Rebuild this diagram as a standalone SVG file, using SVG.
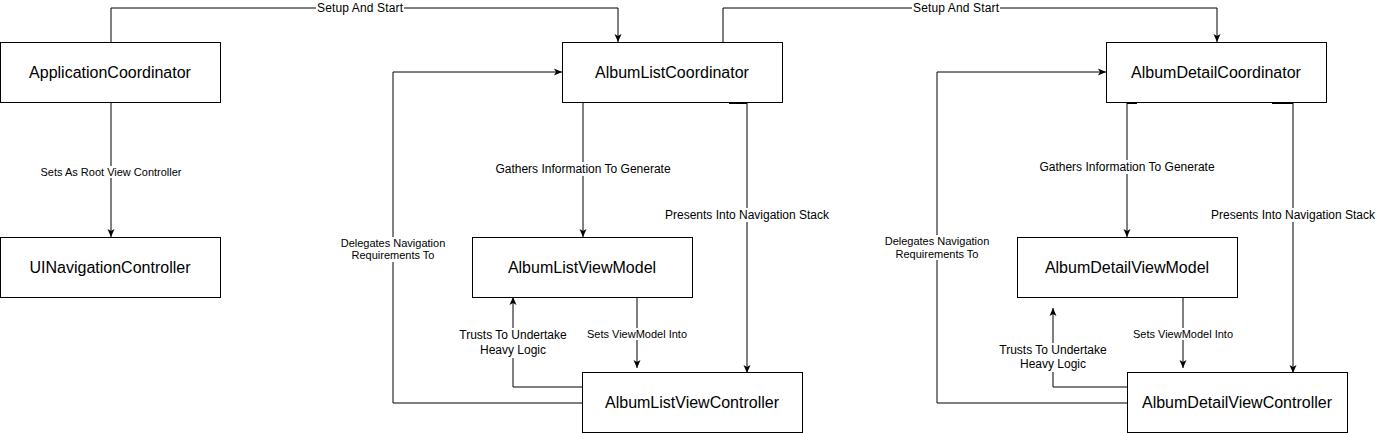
<svg xmlns="http://www.w3.org/2000/svg" width="1376" height="433" viewBox="0 0 1376 433">
<style>
.box{fill:#fff;stroke:#000;stroke-width:1}
.t{font-family:"Liberation Sans",Arial,sans-serif;font-size:16px;fill:#000;text-anchor:middle;dominant-baseline:central}
.l{font-family:"Liberation Sans",Arial,sans-serif;font-size:11px;fill:#000;text-anchor:middle;dominant-baseline:central}
.m{font-size:12px}
.e{fill:none;stroke:#000;stroke-width:1;marker-end:url(#a)}
.bg{fill:#fff}
.tick{stroke:#000;stroke-width:2}
</style>
<defs>
<marker id="a" markerUnits="userSpaceOnUse" markerWidth="10" markerHeight="10" viewBox="0 0 10 10" refX="8" refY="5" orient="auto">
<path d="M0,1.5 L8,5 L0,8.5 L2,5 z" fill="#000"/>
</marker>
</defs>
<rect width="1376" height="433" fill="#fff"/>
<g id="connectors">
<path class="e" d="M111,42 V8 H618 V42"/>
<rect class="bg" x="316" y="2" width="88" height="12"/>
<text class="l m" x="360" y="8" textLength="86">Setup And Start</text>
<path class="e" d="M723,42 V8 H1217 V42"/>
<rect class="bg" x="912" y="2" width="88" height="12"/>
<text class="l m" x="956" y="8" textLength="86">Setup And Start</text>
<path class="e" d="M111,102 V237"/>
<rect class="bg" x="39" y="166" width="145" height="12"/>
<text class="l" x="111" y="172">Sets As Root View Controller</text>
<path class="e" d="M583,102 V237"/>
<rect class="bg" x="494" y="162" width="178" height="14"/>
<text class="l m" x="583" y="169">Gathers Information To Generate</text>
<path class="e" d="M747,102 V373"/>
<rect class="bg" x="664" y="208" width="167" height="14"/>
<text class="l m" x="747" y="215">Presents Into Navigation Stack</text>
<line class="tick" x1="729" y1="103" x2="747" y2="103"/>
<path class="e" d="M637,297 V368"/>
<rect class="bg" x="586" y="328" width="102" height="12"/>
<text class="l" x="637" y="334">Sets ViewModel Into</text>
<path class="e" d="M582,387 H513 V297"/>
<rect class="bg" x="458" y="328" width="110" height="30"/>
<text class="l m" x="513" y="335">Trusts To Undertake</text>
<text class="l m" x="513" y="350">Heavy Logic</text>
<path class="e" d="M582,403 H393 V72 H562"/>
<rect class="bg" x="338" y="237" width="110" height="25"/>
<text class="l" x="393" y="243">Delegates Navigation</text>
<text class="l" x="393" y="255">Requirements To</text>
<path class="e" d="M1127,102 V237"/>
<rect class="bg" x="1038" y="160" width="178" height="14"/>
<text class="l m" x="1127" y="167">Gathers Information To Generate</text>
<path class="e" d="M1293,102 V373"/>
<rect class="bg" x="1210" y="208" width="166" height="14"/>
<text class="l m" x="1293" y="215">Presents Into Navigation Stack</text>
<line class="tick" x1="1272" y1="103" x2="1293" y2="103"/>
<line class="tick" x1="1127" y1="103" x2="1137" y2="103"/>
<path class="e" d="M1183,297 V368"/>
<rect class="bg" x="1132" y="328" width="102" height="12"/>
<text class="l" x="1183" y="334">Sets ViewModel Into</text>
<path class="e" d="M1127,387 H1053 V308"/>
<rect class="bg" x="998" y="343" width="110" height="29"/>
<text class="l m" x="1053" y="350">Trusts To Undertake</text>
<text class="l m" x="1053" y="364">Heavy Logic</text>
<path class="e" d="M1127,403 H937 V72 H1106"/>
<rect class="bg" x="882" y="235" width="110" height="25"/>
<text class="l" x="937" y="241">Delegates Navigation</text>
<text class="l" x="937" y="254">Requirements To</text>
</g>
<g id="ApplicationCoordinator"><rect class="box" x="0.5" y="42.5" width="220" height="60"/><text class="t" x="110" y="72">ApplicationCoordinator</text></g>
<g id="UINavigationController"><rect class="box" x="0.5" y="237.5" width="220" height="60"/><text class="t" x="110" y="267">UINavigationController</text></g>
<g id="AlbumListCoordinator"><rect class="box" x="562.5" y="42.5" width="220" height="60"/><text class="t" x="672" y="72">AlbumListCoordinator</text></g>
<g id="AlbumListViewModel"><rect class="box" x="472.5" y="237.5" width="220" height="60"/><text class="t" x="582" y="267">AlbumListViewModel</text></g>
<g id="AlbumListViewController"><rect class="box" x="582.5" y="372.5" width="220" height="60"/><text class="t" x="692" y="402">AlbumListViewController</text></g>
<g id="AlbumDetailCoordinator"><rect class="box" x="1106.5" y="42.5" width="220" height="60"/><text class="t" x="1216" y="72">AlbumDetailCoordinator</text></g>
<g id="AlbumDetailViewModel"><rect class="box" x="1017.5" y="237.5" width="220" height="60"/><text class="t" x="1127" y="267">AlbumDetailViewModel</text></g>
<g id="AlbumDetailViewController"><rect class="box" x="1127.5" y="372.5" width="220" height="60"/><text class="t" x="1237" y="402">AlbumDetailViewController</text></g>
</svg>
